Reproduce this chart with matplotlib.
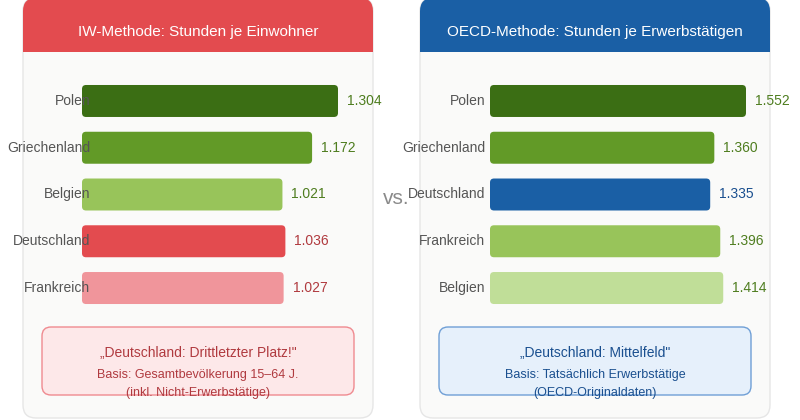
import matplotlib
matplotlib.use("Agg")
import matplotlib.pyplot as plt
from matplotlib.patches import FancyBboxPatch, Rectangle

plt.rcParams['font.family'] = ['Liberation Sans', 'DejaVu Sans']

# data
iw_countries = ["Polen", "Griechenland", "Belgien", "Deutschland", "Frankreich"]
iw_values = [1.304, 1.172, 1.021, 1.036, 1.027]
iw_colors = ["#3b6e14", "#629a27", "#98c45a", "#e34b4f", "#f0959b"]
iw_text_colors = ["#4e7d1f", "#4e7d1f", "#4e7d1f", "#b03a3f", "#b03a3f"]

oecd_countries = ["Polen", "Griechenland", "Deutschland", "Frankreich", "Belgien"]
oecd_values = [1.552, 1.360, 1.335, 1.396, 1.414]
oecd_colors = ["#3b6e14", "#629a27", "#1a5fa5", "#98c45a", "#c0de98"]
oecd_text_colors = ["#4e7d1f", "#4e7d1f", "#1a4f8f", "#4e7d1f", "#4e7d1f"]

W, H = 800, 420
fig = plt.figure(figsize=(W / 100, H / 100), dpi=100)
fig.patch.set_facecolor("white")

# overlay in pixel coordinates (y down)
bg = fig.add_axes([0, 0, 1, 1])
bg.set_xlim(0, W)
bg.set_ylim(H, 0)
bg.axis("off")


def panel(x0, x1, head_color, title, note_title, note_lines, note_fc, note_ec, note_tc):
    body = FancyBboxPatch((x0, -2), x1 - x0, 420, boxstyle="round,pad=0,rounding_size=13",
                          fc="#fafaf9", ec="#e6e6e6", lw=1.0, zorder=1)
    bg.add_patch(body)
    head = FancyBboxPatch((x0, -2), x1 - x0, 80, boxstyle="round,pad=0,rounding_size=13",
                          fc=head_color, ec="none", zorder=2)
    bg.add_patch(head)
    clip = Rectangle((x0 - 2, -5), x1 - x0 + 4, 57, transform=bg.transData)
    head.set_clip_path(clip)
    cx = (x0 + x1) / 2
    bg.text(cx, 32, title, color="white", fontsize=11, ha="center", va="center", zorder=3)
    note = FancyBboxPatch((x0 + 19, 327), x1 - x0 - 38, 68, boxstyle="round,pad=0,rounding_size=9",
                          fc=note_fc, ec=note_ec, lw=1.0, zorder=2)
    bg.add_patch(note)
    bg.text(cx, 353, note_title, color=note_tc, fontsize=10, ha="center", va="center", zorder=3)
    bg.text(cx, 375, note_lines[0], color=note_tc, fontsize=9, ha="center", va="center", zorder=3)
    bg.text(cx, 393, note_lines[1], color=note_tc, fontsize=9, ha="center", va="center", zorder=3)


panel(23, 373, "#e34b4f", "IW-Methode: Stunden je Einwohner",
      "\u201eDeutschland: Drittletzter Platz!\"",
      ["Basis: Gesamtbev\u00f6lkerung 15\u201364 J.", "(inkl. Nicht-Erwerbst\u00e4tige)"],
      "#fde8e9", "#ef8a90", "#b03a3f")
panel(420, 770, "#1a5fa5", "OECD-Methode: Stunden je Erwerbst\u00e4tigen",
      "\u201eDeutschland: Mittelfeld\"",
      ["Basis: Tats\u00e4chlich Erwerbst\u00e4tige", "(OECD-Originaldaten)"],
      "#e6f0fb", "#6f9fd6", "#1a4f8f")

bg.text(396, 198, "vs.", color="#8a8a8a", fontsize=15, ha="center", va="center", zorder=3)


def bars(left_px, label_px, countries, values, colors, tcolors):
    xmax = max(values) * 1.15
    width_px = 256 * 1.15
    top_px, bot_px = 101 - 23.4, 288 + 23.4
    ax = fig.add_axes([left_px / W, 1 - bot_px / H, width_px / W, (bot_px - top_px) / H])
    ax.set_xlim(0, xmax)
    ax.set_ylim(len(values) - 0.5, -0.5)
    ax.axis("off")
    ypos = list(range(len(values)))
    bh = 0.684
    rects = ax.barh(ypos, values, height=bh, color=colors)
    xs = width_px / xmax
    ys = (bot_px - top_px) / len(values)
    r = 4.0
    for rect, c in zip(rects, colors):
        rect.set_visible(False)
        p = FancyBboxPatch((rect.get_x(), rect.get_y()), rect.get_width(), rect.get_height(),
                           boxstyle="round,pad=0,rounding_size=%f" % (r / xs),
                           mutation_aspect=xs / ys, fc=c, ec="none", zorder=2)
        ax.add_patch(p)
    for y, v, name, tc in zip(ypos, values, countries, tcolors):
        ax.text(v + 9 / xs, y, f"{v:.3f}", color=tc, fontsize=10, ha="left", va="center",
                clip_on=False)
        ax.text((label_px - left_px) / xs, y, name, color="#555555", fontsize=10,
                ha="right", va="center", clip_on=False, zorder=3)
    return ax


bars(82, 90, iw_countries, iw_values, iw_colors, iw_text_colors)
bars(490, 485, oecd_countries, oecd_values, oecd_colors, oecd_text_colors)

fig.savefig("out.png", dpi=100)
